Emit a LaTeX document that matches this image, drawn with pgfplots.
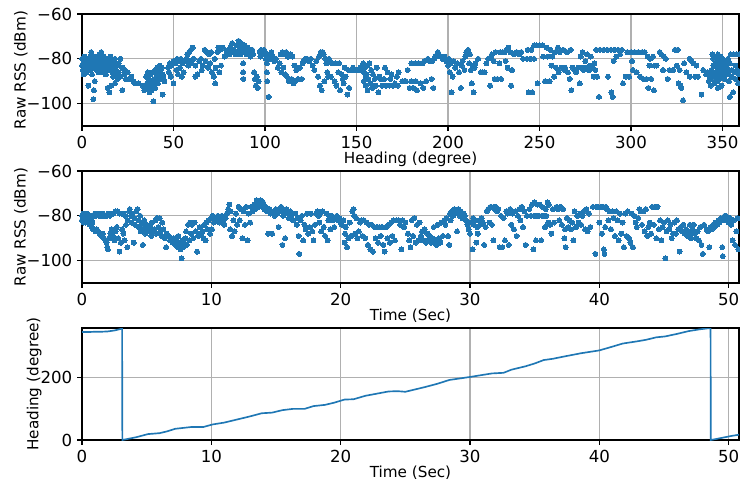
\documentclass[border=0pt]{standalone}
\usepackage{fontspec}
\setmainfont{DejaVu Sans}
\usepackage{pgfplots}
\pgfplotsset{compat=1.18}
\definecolor{mplblue}{HTML}{1F77B4}
\definecolor{gridgray}{HTML}{B0B0B0}
\pgfplotsset{
  myax/.style={
    width=473.04bp, height=80.64bp, scale only axis,
    anchor=north west,
    axis line style={line width=0.8pt, color=black},
    tick align=outside, tick pos=left,
    major tick length=3.5pt, tick style={line width=0.8pt, color=black},
    grid=major, major grid style={line width=0.8pt, color=gridgray},
    tick label style={font=\fontsize{12}{14}\selectfont},
    label style={font=\fontsize{11}{13}\selectfont},
    xlabel style={yshift=4.5bp},
    ylabel style={yshift=-7.5bp},
    clip mode=individual,
  },
  rssax/.style={
    ymin=-110, ymax=-60,
    ytick={-100,-80,-60}, yticklabels={−100,−80,−60},
    ylabel={Raw RSS (dBm)},
  },
  timeax/.style={
    xmin=0, xmax=50.8,
    xtick={0,10,20,30,40,50}, xticklabels={0,10,20,30,40,50},
    xlabel={Time (Sec)},
  },
  dots/.style={only marks, mark=*, mark size=1.8pt, color=mplblue, mark options={draw=mplblue, fill=mplblue, line width=0pt}},
}
\begin{document}
\begin{tikzpicture}
\path[use as bounding box] (0,0) rectangle (532.8bp,-348.48bp);
% ---------------- top: RSS vs heading
\begin{axis}[myax, rssax, at={(59.04bp,-10.08bp)},
  xmin=0, xmax=359,
  xtick={0,50,100,150,200,250,300,350}, xticklabels={0,50,100,150,200,250,300,350},
  xlabel={Heading (degree)}]
\addplot[dots] coordinates {
(0,-80)(0,-83)(0.5,-85)(1,-81)(1,-87)(1.5,-79)(2,-82)(2,-84)(2.5,-86)(3,-80)(3,-83)(3.5,-92)(4,-81)(4,-85)(4.5,-79)(5,-77)(5,-83)(5.5,-87)(6,-80)(6,-84)(6.2,-98)(6.5,-94)(7,-82)(7,-90)(7.5,-79)(8,-81)(8,-85)(8.5,-83)(9,-80)(9,-86)(9.5,-78)(10,-82)(10,-84)(10.5,-77)(11,-80)(11,-83)(11.5,-86)(12,-81)(12,-79)(12.5,-84)(13,-82)(13,-87)(13.5,-80)(14,-83)(14,-93)(14.5,-85)(15,-81)(15,-95)(15.5,-79)(16,-84)(16,-92)(16.5,-86)(17,-82)(17,-88)(18,-80)(18,-91)(18.5,-85)(19,-83)(19,-87)(19.5,-89)(20,-82)(20,-86)(21,-80)(21,-88)(22,-94)(22,-84)(23,-87)(23.5,-85)(24,-89)(25,-86)(26,-89)(27,-88)(28,-90)(29,-91)(31,-91)(33,-92)(34,-94)(35,-92)
(35,-88)(35.5,-91)(36,-86)(36,-93)(36.5,-89)(37,-92)(37,-95)(37.5,-87)(38,-90)(38,-94)(38.5,-86)(39,-99)(39,-92)(39.5,-89)(40,-85)(40,-93)(40.5,-90)(41,-87)(41,-84)(41.5,-91)(42,-86)(42,-88)(42.5,-83)(43,-89)(43,-85)(43.5,-84)(44,-87)(44,-96)(44.5,-88)(45,-90)
(47,-84)(47.5,-86)(48,-82)(48.5,-88)(49,-83)(50,-91)(50,-81)(51,-82)(51.5,-85)(52,-80)(52.5,-87)(53,-81)(53.5,-84)(54,-80)(54.5,-88)(55,-82)(55.5,-86)(56,-81)(57,-80)(57.5,-78)(58,-83)(58.5,-77)(59,-81)(59.5,-76)(60,-82)(60.5,-75)(61,-80)(62,-88)(62,-83)
(63,-87)(64,-81)(65,-80)(65.5,-85)(66,-83)(67,-76)(67.5,-81)(68,-77)(69,-84)(69.5,-78)(70,-82)(70.5,-77)(71,-86)(72,-88)(72.5,-80)(72.8,-91)(73,-84)(74,-77)(74.5,-75)(75,-86)(75.5,-76)(76,-83)(77,-75)
(78,-79)(79,-77)(80,-76)(80.5,-78)(81,-75)(82,-73)(82.5,-77)(83,-76)(84,-78)(84.5,-74)(85,-77)(85.5,-72)(86,-75)(86.5,-78)(87,-73)(87.5,-76)(88,-82)(88,-86)(88.2,-89)(88.5,-77)(89,-74)(89.5,-76)(90,-78)(90.5,-75)(91,-77)(91.5,-76)(92,-79)(92.5,-77)(93,-76)(93.5,-78)(94,-86)(94.5,-89)(95,-92)(95.5,-88)(96,-93)(96.5,-90)
(97,-77)(97.5,-79)(98,-76)(99,-78)(99.5,-76)(100,-77)(100.5,-80)(101,-82)(101,-86)(101.2,-90)(101.5,-79)(102,-97)(102.5,-78)(103,-80)(103.5,-77)(104,-79)(105,-81)(106,-80)(107,-84)(108,-82)(108.5,-78)(109,-86)(109.5,-77)(110,-84)(110.5,-78)(111,-87)(111.5,-77)(112,-88)(112.5,-79)(113,-90)(114,-78)(114.5,-89)(115,-79)(115.5,-91)(116,-83)(116.5,-90)(117,-85)(117.5,-84)(118,-89)
(119,-84)(120,-89)(120.5,-82)(121,-81)(122,-80)(123,-80)(124,-81)(125,-80)(126,-83)(127,-85)(128,-81)(129,-88)(129.5,-79)(130,-92)(130.5,-77)(131,-94)(131.5,-77)(132,-78)(132.5,-90)(133,-80)(133.5,-82)(134,-86)(134.5,-88)(135,-80)(136,-88)(136.5,-82)(137,-82)(138,-90)(138.5,-82)(139,-92)(140,-86)(140.5,-82)(141,-94)(142,-87)(142.5,-89)(143,-91)(143.5,-84)(144,-88)(145,-96)(145.5,-85)(146,-93)(147,-85)(148,-84)(149,-85)(150,-85)(151,-85)(152,-84)(153,-85)(153.6,-82)(154,-86)(154,-90)(154.5,-84)(155,-88)(155,-92)(155.5,-87)(156,-94)(156,-83)(156.5,-89)
(157,-82)(157.5,-91)(158,-85)(158.5,-93)(159,-87)(160,-89)(160.5,-92)(161,-84)(162,-95)(162.5,-88)(163,-89)(164,-92)(165,-89)(165.5,-84)(166,-92)(167,-86)(168,-92)(168.5,-89)(169,-87)(170,-92)(171,-91)(172,-88)(172.5,-92)(173,-86)(175,-90)(176,-90)(177,-90)(178,-85)(179,-93)(180,-82)(180,-90)(181,-93)(182,-82)(182.5,-90)(183,-94)(184,-82)(185,-91)(186,-82)(186.5,-93)(187,-81)(188,-90)(189,-80)(190,-81)
(191,-89)(191.5,-81)(192,-93)(192.5,-80)(193,-79)(194,-78)(194.5,-77)(195,-78)(196,-79)(197,-80)(198,-79)(199,-81)(200,-83)(200.5,-80)(201,-86)(201.5,-82)(202,-95)(202.5,-88)(203,-81)(204,-84)(205,-82)(206,-86)(207,-93)(207.5,-83)(208,-81)(209,-85)(209.5,-79)(210,-77)(211,-76)(211.5,-82)(212,-78)(212.5,-85)(213,-91)(213.5,-83)(214,-95)(214.5,-84)(215,-82)(216.5,-80)(218,-86)(219,-86)(220,-86)(221,-82)(222,-80)(223,-92)(223.5,-79)(224,-78)(225,-81)(225.5,-89)(226,-77)(227,-89)(228,-82)(228.5,-77)(229,-89)(230,-77)(231,-77)(231.5,-81)(232,-76)(232.5,-84)(233,-75)(234,-77)(234.5,-92)(235,-85)(236,-78)
(237.5,-77)(239,-78)(240,-77)(241,-80)(243,-80)(243.5,-76)(244,-95)(245,-80)(245.5,-76)(246,-95)(247,-80)(247,-74)(248.5,-74)(249,-91)(250,-74)(251.5,-74)(252,-79)(253,-90)(254,-75)(254.5,-79)(255.5,-90)(256,-76)(256.5,-83)(257,-79)(258,-88)(258.5,-77)(259,-84)(260,-75)(260.5,-86)(261,-77)(262,-84)(263,-76)(263.5,-85)(264,-84)(265,-77)(265.5,-86)(266.5,-89)(267,-76)(267.4,-94)(268,-84)(269,-85)(270,-86)(271,-84)(272,-91)(272.5,-79)(273,-84)(273.5,-77)(274,-85)(275,-81)(275.5,-84)(276,-78)(277,-85)(277.5,-83)(278,-79)(279,-84)(279.5,-88)(280,-82)(280.5,-85)(281,-76)(281.5,-88)(282.5,-97)(283,-76)(285,-76)(287,-76)(287.4,-88)(289,-76)(289.3,-95)(290,-97)(290.5,-81)(291,-76)(292,-79)(293,-76)(294,-78)(295,-76)(295.6,-91)(297,-88)(298,-77)(299,-88)(300,-77)(300.5,-81)
(301,-85)(302,-77)(303,-86)(304,-77)(305,-88)(306,-77)(306.6,-89)(307.5,-77)(308.4,-89)(309,-79)(309.5,-93)(310,-83)(310.5,-80)(311,-89)(312,-79)(312.5,-94)(313,-83)(314,-83)(315.7,-77)(316.5,-78)(317.5,-85)(318,-79)(319,-80)(320,-89)(321,-85)(323,-85)(324,-76)(325,-83)(325.5,-76)(326,-91)(326.6,-85)(327,-92)(327.5,-93)(328.4,-98.5)(329,-82)(330.2,-86)(332,-80)(332,-88)(333,-81)(334,-82)(335,-88)(335.7,-83)(336.6,-88)(338.5,-96)(339.4,-85)(341,-87)
(342,-86)(342.5,-90)(343,-88)(343.5,-92)(344,-85)(344,-89)(344.5,-78)(345,-80)(345,-83)(345,-87)(345.5,-91)(346,-79)(346,-82)(346,-86)(346.5,-88)(347,-80)(347,-84)(347,-90)(347.5,-78)(347.5,-93)(348,-81)(348,-83)(348,-87)(348.5,-85)(348.5,-89)(349,-79)(349,-82)(349,-86)(349.5,-88)(349.5,-92)(350,-80)(350,-84)(350,-87)(350.5,-82)(351,-85)(351,-89)(351.5,-81)(352,-83)(352,-87)(352.5,-84)(353,-80)(353,-86)(353.5,-90)(354,-82)(354,-97)(354.5,-78)(355,-85)(355,-88)(355.8,-95)(356,-78)(356.5,-86)(357,-83)(357,-89)(357.5,-78)(358,-85)(358.5,-91)(359,-78)(359,-87)
};
\end{axis}
% ---------------- middle: RSS vs time
\begin{axis}[myax, rssax, timeax, at={(59.04bp,-123.12bp)}]
\addplot[dots] coordinates {
(0.0,-80)(0.0,-82)(0.05,-81)(0.1,-79)(0.1,-83)(0.15,-80)(0.2,-82)(0.2,-79)(0.25,-81)(0.3,-80)(0.3,-83)(0.35,-82)(0.4,-79)(0.4,-81)(0.45,-83)(0.5,-80)(0.5,-82)(0.55,-81)(0.6,-84)(0.65,-80)(0.7,-82)(0.75,-85)(0.8,-83)(0.85,-86)(0.9,-80)(0.95,-86)(1.0,-79)
(1.1,-80)(1.2,-79)(1.35,-80)(1.5,-80)(1.6,-79)(1.75,-80)(1.9,-80)(2.0,-79)(2.15,-80)(2.3,-79)(2.45,-79)(2.6,-78)(2.75,-78)(2.9,-79)(3.05,-79)(3.2,-79)(3.35,-80)
(1.05,-87)(1.15,-86)(1.25,-87)(1.35,-88)(1.5,-89)(1.6,-88)(1.7,-90)(1.8,-91)(1.9,-92)(1.95,-94)(2.0,-95)(2.1,-90)(2.2,-88)(2.3,-86)(2.4,-89)(2.5,-91)(2.6,-87)(2.7,-85)(2.8,-90)(2.9,-96)(3.0,-92)(3.1,-86)(3.2,-88)(3.3,-91)(3.4,-84)(3.5,-94)(3.55,-82)
(3.65,-78)(3.7,-77)(3.8,-80)(3.85,-83)(3.9,-79)(4.0,-92)(4.05,-81)(4.1,-84)(4.2,-78)(4.3,-77)(4.35,-82)(4.4,-85)(4.5,-80)(4.55,-87)(4.6,-84)(4.7,-93)(4.75,-86)
(4.8,-82)(4.9,-88)(5.0,-84)(5.1,-86)(5.2,-87)(5.3,-85)(5.35,-89)(5.4,-83)(5.5,-87)(5.6,-86)(5.7,-82)(5.75,-88)(5.8,-81)(5.9,-85)(6.0,-81)(6.05,-87)(6.15,-89)(6.2,-83)(6.3,-86)(6.4,-90)(6.5,-94)(6.55,-88)
(6.7,-89)(6.8,-91)(6.9,-90)(7.0,-92)(7.1,-90)(7.2,-93)(7.3,-91)(7.4,-94)(7.45,-89)(7.5,-92)(7.6,-95)(7.65,-93)(7.7,-99)(7.75,-91)(7.8,-94)(7.9,-92)(8.0,-90)(8.05,-87)(8.1,-93)(8.2,-84)(8.3,-91)(8.35,-83)(8.45,-88)(8.5,-84)(8.6,-90)(8.7,-83)(8.8,-87)(8.9,-96)
(9.0,-89)(9.1,-85)(9.2,-88)(9.3,-87)(9.4,-90)(9.45,-84)(9.55,-91)(9.6,-83)(9.7,-86)(9.8,-82)(9.9,-88)(10.0,-81)(10.05,-86)(10.1,-80)(10.2,-83)(10.3,-81)(10.4,-82)(10.5,-80)(10.6,-83)(10.7,-81)(10.8,-80)(10.9,-82)(11.0,-84)(11.1,-81)(11.2,-79)
(11.3,-77)(11.4,-75)(11.45,-86)(11.5,-78)(11.6,-89)(11.7,-82)(11.8,-87)(11.9,-79)(12.0,-84)(12.1,-76)(12.2,-82)(12.3,-77)(12.4,-90)(12.5,-78)(12.6,-84)(12.7,-76)(12.8,-91)(12.9,-79)(13.0,-83)
(13.1,-76)(13.2,-78)(13.3,-75)(13.4,-77)(13.5,-73)(13.6,-74)(13.7,-76)(13.8,-73)(13.9,-75)(14.0,-74)(14.1,-77)(14.2,-76)(14.3,-78)(14.4,-88)(14.5,-77)(14.6,-79)(14.7,-88)(14.8,-78)(14.9,-80)(15.0,-77)(15.1,-79)(15.2,-85)(15.3,-78)(15.4,-76)(15.5,-93)(15.55,-80)(15.6,-78)(15.7,-90)(15.8,-77)(15.9,-79)(16.0,-81)(16.1,-78)(16.2,-80)(16.3,-82)
(16.5,-79)(16.6,-84)(16.7,-81)(16.75,-89)(16.8,-97)(16.9,-82)(17.0,-80)(17.1,-91)(17.2,-84)(17.3,-86)(17.4,-79)(17.5,-88)(17.6,-85)(17.7,-79)(17.8,-87)(17.9,-91)(18.0,-84)
(18.1,-79)(18.2,-78)(18.3,-80)(18.35,-83)(18.4,-79)(18.5,-87)(18.6,-78)(18.7,-85)(18.8,-89)(18.9,-79)(19.0,-91)(19.05,-82)(19.1,-80)(19.2,-86)(19.3,-80)(19.4,-82)(19.5,-85)(19.6,-81)(19.7,-80)(19.8,-82)(19.9,-81)(20.0,-83)
(20.1,-84)(20.2,-82)(20.3,-92)(20.35,-88)(20.4,-85)(20.5,-94)(20.6,-90)(20.7,-83)(20.8,-89)(20.9,-78)(21.0,-77)(21.05,-80)(21.1,-88)(21.2,-81)(21.3,-90)(21.4,-87)(21.5,-83)(21.6,-82)(21.7,-89)(21.8,-82)(21.9,-90)(22.0,-83)(22.1,-93)(22.2,-84)(22.3,-95)(22.4,-84)(22.5,-96)(22.6,-85)
(22.7,-90)(22.8,-85)(22.9,-92)(23.0,-85)(23.1,-89)(23.2,-85)(23.3,-93)(23.4,-96)(23.5,-85)(23.6,-90)(23.7,-84)(23.8,-92)(23.9,-83)(24.0,-89)(24.1,-82)(24.2,-91)(24.3,-82)(24.5,-82)(24.6,-84)(24.7,-95)(24.8,-82)(24.9,-85)(25.0,-83)
(25.2,-88)(25.3,-91)(25.4,-94)(25.5,-82)(25.6,-89)(25.7,-81)(25.8,-92)(25.9,-84)(26.0,-91)
(26.1,-83)(26.2,-89)(26.3,-87)(26.4,-91)(26.5,-86)(26.6,-92)(26.7,-88)(26.8,-91)(26.9,-89)(27.0,-92)(27.1,-90)(27.2,-85)(27.3,-91)(27.4,-93)(27.5,-84)(27.6,-90)(27.7,-92)(27.8,-83)(27.9,-89)(28.0,-82)(28.1,-84)(28.2,-81)(28.3,-89)(28.4,-93)(28.45,-79)(28.5,-82)(28.6,-78)(28.7,-80)(28.8,-77)(28.9,-78)(29.0,-87)(29.05,-79)(29.1,-77)(29.2,-80)(29.3,-78)(29.4,-81)(29.5,-79)(29.6,-80)(29.7,-82)(29.8,-84)(29.9,-86)(30.0,-88)(30.1,-83)(30.2,-95)(30.25,-81)
(30.3,-84)(30.4,-82)(30.5,-92)(30.55,-85)(30.6,-88)(30.7,-82)(30.8,-84)(30.9,-81)(31.0,-83)(31.1,-93)(31.2,-85)(31.3,-78)(31.4,-77)(31.5,-83)(31.6,-76)(31.7,-84)(31.8,-91)(31.85,-76)(31.9,-77)(32.0,-76)(32.1,-78)(32.2,-77)
(32.3,-94)(32.4,-80)(32.5,-94)(32.6,-81)(32.7,-91)(32.8,-78)(32.9,-79)(33.0,-93)(33.1,-77)(33.2,-84)(33.3,-79)(33.4,-86)(33.5,-78)(33.6,-89)(33.7,-80)(33.8,-77)(33.9,-82)(34.0,-76)(34.1,-85)(34.2,-78)(34.3,-93)(34.4,-80)
(34.6,-77)(34.7,-80)(34.8,-75)(34.9,-95)(34.95,-80)(35.0,-74)(35.1,-91)(35.15,-80)(35.2,-75)(35.3,-80)(35.4,-75)(35.5,-91)(35.55,-80)(35.6,-76)(35.7,-80)(35.8,-85)(35.85,-77)(35.9,-80)(36.0,-74)(36.05,-83)(36.1,-75)(36.2,-84)(36.3,-88)(36.4,-77)(36.5,-83)
(36.7,-76)(36.8,-77)(36.9,-82)(37.0,-76)(37.1,-84)(37.2,-77)(37.3,-90)(37.35,-86)(37.4,-94)(37.5,-81)(37.6,-85)(37.7,-82)(37.8,-86)(37.9,-83)(38.0,-91)(38.1,-78)(38.2,-85)(38.3,-80)(38.4,-83)(38.5,-79)(38.6,-84)(38.7,-80)(38.8,-78)(38.9,-86)(39.0,-77)(39.1,-87)(39.2,-79)(39.3,-85)
(39.5,-76)(39.7,-97)(39.75,-76)(39.9,-76)(40.0,-83)(40.1,-76)(40.2,-88)(40.3,-76)(40.35,-95)(40.4,-97)(40.45,-85)(40.5,-76)(40.6,-77)(40.7,-82)(40.8,-78)(40.9,-86)(41.0,-78)(41.1,-81)(41.2,-89)(41.3,-78)(41.4,-82)(41.5,-91)(41.6,-79)(41.7,-88)(41.8,-83)(41.9,-94)(42.0,-79)(42.1,-89)(42.2,-78)(42.3,-90)(42.4,-92)(42.5,-79)(42.6,-94)(42.7,-80)(42.8,-83)(42.9,-85)(43.0,-81)
(43.1,-77)(43.2,-78)(43.3,-84)(43.4,-78)(43.5,-87)(43.6,-77)(43.7,-89)(43.8,-85)(43.9,-83)(44.0,-88)(44.1,-76)(44.2,-84)(44.3,-76)(44.4,-90)(44.5,-76)(44.6,-86)(44.7,-82)(44.8,-91)(44.9,-85)(45.0,-83)(45.1,-99)(45.2,-87)
(45.3,-82)(45.4,-86)(45.5,-84)(45.6,-90)(45.7,-88)(45.8,-83)(45.9,-88)(46.0,-82)(46.1,-86)(46.2,-96)(46.3,-85)
(46.4,-87)(46.5,-84)(46.6,-88)(46.7,-86)(46.8,-89)(46.9,-87)(47.0,-84)(47.05,-88)(47.1,-90)(47.2,-86)(47.3,-84)(47.4,-88)(47.5,-90)(47.6,-87)(47.7,-91)(47.8,-85)(47.9,-93)(48.0,-97)(48.1,-84)
(48.3,-86)(48.4,-87)(48.5,-94)(48.6,-85)(48.7,-86)(48.8,-84)(48.9,-85)(49.0,-83)(49.1,-84)(49.2,-82)(49.3,-83)(49.4,-81)(49.5,-94)(49.55,-98)(49.6,-82)(49.7,-80)(49.8,-80)(49.9,-81)(50.0,-83)(50.1,-81)(50.2,-84)(50.3,-91)(50.4,-82)(50.5,-93)(50.6,-87)(50.7,-81)(50.75,-95)
};
\end{axis}
% ---------------- bottom: heading vs time
\begin{axis}[myax, timeax, at={(59.04bp,-236.16bp)},
  ymin=0, ymax=360, ytick={0,200}, yticklabels={0,200},
  ylabel={Heading (degree)}]
\addplot[color=mplblue, line width=1.2pt] coordinates {
(0,347)(0.5,347)(1.0,348)(1.5,348)(2.0,349)(2.5,352)(3.0,357)(3.1,360)(3.12,0)(4.2,9)(5.1,19)(6.0,22)(6.6,28)(7.2,36)(8.5,42)(9.4,42)(10.1,50)(11.0,56)(12.1,67)(13.0,76)(13.9,86)(14.7,88)(15.5,96)(16.3,100)(17.2,100)(17.9,109)(18.8,113)(19.5,120)(20.3,130)(21.0,131)(21.9,142)(22.8,149)(23.7,156)(24.4,157)(25.0,155)(25.5,160)(26.5,170)(27.5,181)(28.4,193)(29.9,202)(30.8,208)(31.7,214)(32.6,216)(33.2,226)(34.3,237)(35.0,246)(35.7,257)(36.4,261)(37.1,267)(38.6,279)(40.0,288)(41.0,300)(41.8,310)(42.9,317)(43.6,322)(44.4,330)(45.1,333)(46.0,341)(46.9,350)(47.8,356)(48.6,360)(48.62,0)(49.0,3)(49.6,8)(50.2,13)(50.8,17)
};
\end{axis}
\end{tikzpicture}
\end{document}
